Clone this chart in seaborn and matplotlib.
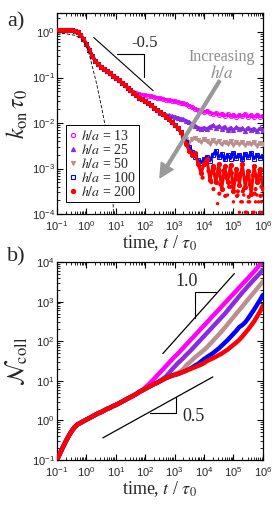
import numpy as np
import pandas as pd
import matplotlib
matplotlib.use("Agg")
import matplotlib.pyplot as plt
import seaborn as sns
from matplotlib.lines import Line2D
from matplotlib.ticker import LogLocator, NullFormatter

# log10(t / tau0) sampling grid
logt = [-1.0, -0.9, -0.8, -0.7, -0.6, -0.5, -0.4, -0.3, -0.2, -0.1,
        0.0, 0.1, 0.2, 0.3, 0.4, 0.5, 0.6, 0.7, 0.8, 0.9,
        1.0, 1.1, 1.2, 1.3, 1.4, 1.5, 1.6, 1.7, 1.8, 1.9,
        2.0, 2.1, 2.2, 2.3, 2.4, 2.5, 2.6, 2.7, 2.8, 2.9,
        3.0, 3.1, 3.2, 3.3, 3.4, 3.5, 3.6, 3.7, 3.8, 3.9,
        4.0, 4.1, 4.2, 4.3, 4.4, 4.5, 4.6, 4.7, 4.8, 4.9,
        5.0, 5.1, 5.2, 5.3, 5.4, 5.5, 5.6, 5.7, 5.8, 5.9, 6.0]

labels = ["$h/a$ = 13", "$h/a$ = 25", "$h/a$ = 50", "$h/a$ = 100", "$h/a$ = 200"]
colors = ["#ff00ff", "#8a2be2", "#bc8f8f", "#0000ff", "#ff0000"]
markers = ["o", "^", "v", "s", "o"]

# ---- panel a: log10(k_on tau0)
kon_main = [0.04, 0.04, 0.04, 0.04, 0.04, 0.035, 0.02, 0.0, -0.06, -0.15,
            -0.26, -0.39, -0.52, -0.63, -0.71, -0.76, -0.81, -0.86, -0.91, -0.96,
            -1.01, -1.06, -1.11, -1.16, -1.22, -1.28, -1.34, -1.39, -1.44, -1.48,
            -1.52, -1.56, -1.61, -1.66, -1.71, -1.76, -1.81, -1.86, -1.92, -1.98,
            -2.04, -2.11, -2.19]
kon_13 = [-1.23, -1.28, -1.32, -1.35, -1.37, -1.38, -1.39, -1.4, -1.41, -1.43,
          -1.45, -1.46, -1.47, -1.49, -1.5, -1.51, -1.52, -1.54, -1.55, -1.57,
          -1.59, -1.62, -1.65, -1.69, -1.72, -1.74, -1.76, -1.73, -1.77, -1.8,
          -1.78, -1.82, -1.79, -1.84, -1.81, -1.85, -1.82, -1.86, -1.83, -1.85,
          -1.81, -1.86, -1.83, -1.87, -1.82, -1.86, -1.84]
kon_25 = [-1.72, -1.77, -1.8, -1.82, -1.83, -1.85, -1.86, -1.88, -1.9, -1.92,
          -1.95, -1.98, -2.02, -2.06, -2.1, -2.12, -2.1, -2.13, -2.08, -2.05,
          -2.1, -2.07, -2.12, -2.08, -2.15, -2.1, -2.16, -2.09, -2.14, -2.11,
          -2.17, -2.1, -2.15, -2.12, -2.18, -2.11, -2.15]
kon_50 = [-2.28, -2.36, -2.42, -2.36, -2.33, -2.38, -2.42, -2.35, -2.4, -2.45,
          -2.38, -2.43, -2.4, -2.47, -2.41, -2.46, -2.4, -2.48, -2.42, -2.47,
          -2.41, -2.49, -2.43, -2.47, -2.42, -2.5, -2.44, -2.47]
kon_100 = [-2.3, -2.42, -2.53, -2.64, -2.74, -2.82, -2.87, -2.8, -2.74, -2.83,
           -2.7, -2.62, -2.75, -2.68, -2.8, -2.7, -2.78, -2.66, -2.76, -2.7,
           -2.8, -2.68, -2.75, -2.66, -2.78, -2.7, -2.76, -2.72]
kon_200 = [-2.32, -2.47, -2.62, -2.7, -2.66, -2.9, -3.1, -2.9, -2.8, -3.25,
           -2.95, -3.3, -2.9, -3.45, -2.95, -3.3, -2.92, -3.5, -3.0, -3.35,
           -2.9, -3.4, -3.05, -3.55, -2.95, -3.3, -3.0, -3.45]
# scattered points of the noisy h/a = 200 tail (between grid times)
red_mid_t = [3.85, 3.95, 4.05, 4.15, 4.25, 4.35, 4.45, 4.55, 4.65, 4.75, 4.85,
             4.95, 5.05, 5.15, 5.25, 5.35, 5.45, 5.55, 5.65, 5.75, 5.85, 5.95,
             4.32, 4.52, 4.72, 4.92, 5.12, 5.32, 5.52, 5.72, 5.92]
red_mid_k = [-2.95, -3.2, -2.85, -3.05, -3.3, -3.0, -3.15, -3.35, -3.05, -3.2, -3.4,
             -3.1, -3.25, -3.5, -3.1, -3.45, -3.2, -3.35, -3.15, -3.45, -3.25, -3.4,
             -3.45, -3.55, -3.6, -3.4, -3.6, -3.5, -3.62, -3.55, -3.6]
# rare single events of the h/a = 200 run
red_low_t = [4.46, 4.8, 5.0, 5.15, 5.2, 5.3, 5.35, 5.45, 5.5, 5.6, 5.65,
             5.75, 5.8, 5.9, 5.95, 6.0, 5.25, 5.4, 5.55, 5.7, 5.85, 5.98]
red_low_k = [-3.77, -3.58, -3.73, -3.58, -3.96, -3.73, -3.58, -3.96, -3.73, -3.58, -3.96,
             -3.73, -3.58, -3.96, -3.73, -3.58, -3.73, -3.96, -3.73, -3.96, -3.73, -3.96]
# free (unconfined) reference curve, dashed
free_t = [-1.0, -0.8, -0.6, -0.4, -0.2, -0.05, 0.05, 0.15, 0.25, 0.35,
          0.45, 0.52, 0.6, 0.65, 0.75, 0.85, 0.94]
free_k = [-0.015, -0.03, -0.05, -0.07, -0.14, -0.25, -0.38, -0.62, -0.88, -1.14,
          -1.45, -1.66, -1.93, -2.1, -2.75, -3.4, -4.0]

# ---- panel b: log10(N_coll)
ncoll_main = [-1.0, -0.84, -0.68, -0.53, -0.39, -0.27, -0.17, -0.1, -0.06, -0.02,
              0.02, 0.06, 0.1, 0.14, 0.18, 0.21, 0.25, 0.29, 0.32, 0.36,
              0.39, 0.43, 0.47, 0.51, 0.55, 0.59, 0.63, 0.67, 0.72, 0.76]
ncoll_red = [0.8, 0.84, 0.88, 0.92, 0.95, 0.99, 1.03, 1.07, 1.1, 1.13,
             1.15, 1.17, 1.2, 1.23, 1.26, 1.29, 1.32, 1.35, 1.38, 1.41,
             1.45, 1.5, 1.54, 1.57, 1.61, 1.65, 1.69, 1.74, 1.79, 1.85,
             1.91, 1.97, 2.04, 2.12, 2.21, 2.3, 2.4, 2.5, 2.62, 2.75, 2.9]
ncoll_13 = [0.83, 0.9, 0.97, 1.05, 1.13, 1.21, 1.29, 1.37, 1.45, 1.53,
            1.61, 1.68, 1.76, 1.84, 1.92, 2.0, 2.08, 2.16, 2.24, 2.32,
            2.4, 2.48, 2.56, 2.64, 2.72, 2.8, 2.88, 2.96, 3.04, 3.12,
            3.2, 3.28, 3.36, 3.44, 3.52, 3.6, 3.68, 3.76, 3.85, 3.94, 4.03]
ncoll_25 = [1.0, 1.05, 1.11, 1.19, 1.28, 1.36, 1.44, 1.51, 1.58, 1.66,
            1.73, 1.81, 1.89, 1.97, 2.05, 2.13, 2.21, 2.29, 2.37, 2.45,
            2.53, 2.61, 2.69, 2.78, 2.87, 2.96, 3.05, 3.14, 3.23, 3.31,
            3.4, 3.48, 3.56, 3.64, 3.72, 3.8]
ncoll_50 = [1.17, 1.2, 1.24, 1.3, 1.4, 1.46, 1.53, 1.6, 1.66, 1.72,
            1.78, 1.85, 1.93, 2.01, 2.09, 2.17, 2.25, 2.34, 2.43, 2.52,
            2.61, 2.7, 2.79, 2.88, 2.97, 3.06, 3.15, 3.24, 3.33, 3.42, 3.51]
ncoll_100 = [1.3, 1.34, 1.39, 1.43, 1.49, 1.55, 1.6, 1.65, 1.7, 1.76,
             1.82, 1.89, 1.96, 2.03, 2.11, 2.19, 2.27, 2.36, 2.41, 2.48,
             2.58, 2.69, 2.8, 2.92, 3.04, 3.17]

kon = [kon_main[:24] + kon_13, kon_main[:34] + kon_25, kon_main[:43] + kon_50,
       kon_main[:43] + kon_100, kon_main[:43] + kon_200]
n_red = ncoll_main + ncoll_red
ncoll = [ncoll_main + ncoll_13, n_red[:35] + ncoll_25, n_red[:40] + ncoll_50,
         n_red[:45] + ncoll_100, n_red]

sns.set_theme(style="ticks")
plt.rcParams["font.family"] = "Liberation Sans"
plt.rcParams["mathtext.fontset"] = "stix"
plt.rcParams["axes.edgecolor"] = "black"
plt.rcParams["axes.linewidth"] = 0.9
serif = "Liberation Serif"

fig = plt.figure(figsize=(2.75, 5.05), dpi=100)
ax1 = fig.add_axes([0.207, 0.576, 0.749, 0.398])
ax2 = fig.add_axes([0.207, 0.089, 0.749, 0.392])

T = 10 ** np.array(logt)

# panel a
for i in range(5):
    y = 10 ** np.array(kon[i])
    mfc = "none" if i in (0, 3) else colors[i]
    sns.lineplot(x=T[:len(y)], y=y, ax=ax1, color=colors[i], lw=2.2,
                 marker=markers[i], markersize=3, mfc=mfc, mec=colors[i],
                 markeredgewidth=0.7, zorder=2 + i)
sns.scatterplot(x=10 ** np.array(red_mid_t), y=10 ** np.array(red_mid_k), ax=ax1,
                color=colors[4], s=9, edgecolor="none", zorder=7)
sns.scatterplot(x=10 ** np.array(red_low_t), y=10 ** np.array(red_low_k), ax=ax1,
                color=colors[4], s=6, edgecolor="none", zorder=7)
sns.lineplot(x=10 ** np.array(free_t), y=10 ** np.array(free_k), ax=ax1,
             color="black", lw=0.6, ls=(0, (4, 2)), zorder=8)

ax1.plot([10 ** 0.25, 10 ** 2.27], [10 ** -0.12, 10 ** -1.29], color="black", lw=0.8)
ax1.plot([10 ** 1.05, 10 ** 1.95, 10 ** 1.95], [10 ** -0.49, 10 ** -0.49, 10 ** -0.98],
         color="black", lw=0.8)
ax1.text(10 ** 1.97, 10 ** -0.24, "-0.5", fontsize=12, family=serif,
         ha="center", va="center")

ax1.annotate("", xy=(10 ** 2.5, 10 ** -3.2), xytext=(10 ** 4.53, 10 ** -1.07),
             arrowprops=dict(facecolor="#999999", edgecolor="#999999",
                             width=2.0, headwidth=10, headlength=10), zorder=9)
ax1.text(10 ** 4.6, 10 ** -0.55, "Increasing", fontsize=11.5, family=serif,
         color="#8c8c8c", ha="center", va="center")
ax1.text(10 ** 4.62, 10 ** -0.9, "$h/a$", fontsize=12.5, color="#8c8c8c",
         ha="center", va="center")

handles = [Line2D([], [], ls="none", marker=markers[i], color=colors[i],
                  mfc=("none" if i in (0, 3) else colors[i]), markersize=3,
                  markeredgewidth=0.8) for i in range(5)]
leg = ax1.legend(handles, labels, loc="lower left", bbox_to_anchor=(0.045, 0.06),
                 borderaxespad=0, frameon=True, fancybox=False, framealpha=1,
                 edgecolor="black", prop={"family": serif, "size": 10},
                 handlelength=0.5, handletextpad=0.3, labelspacing=0.0,
                 borderpad=0.25)
leg.get_frame().set_linewidth(0.7)
leg.set_zorder(10)

ax1.set_ylim(1e-4, 2.6)
ax1.set_ylabel(r"$k_{\rm on}\,\tau_0$", fontsize=17, labelpad=1)

# panel b
for i in range(5):
    y = 10 ** np.array(ncoll[i])
    sns.lineplot(x=T[:len(y)], y=y, ax=ax2, color=colors[i], lw=3.2, zorder=2 + i)

ax2.plot([10 ** 2.6, 10 ** 5.03], [10 ** 1.69, 10 ** 3.71], color="black", lw=0.9)
ax2.plot([10 ** 3.68, 10 ** 3.68, 10 ** 4.4], [10 ** 2.58, 10 ** 3.25, 10 ** 3.25],
         color="black", lw=0.8)
ax2.text(10 ** 3.39, 10 ** 3.5, "1.0", fontsize=13, family=serif,
         ha="center", va="center")
ax2.plot([10 ** 0.56, 10 ** 4.3], [10 ** -0.44, 10 ** 1.1], color="black", lw=0.9)
ax2.plot([10 ** 2.15, 10 ** 3.03, 10 ** 3.03], [10 ** 0.2, 10 ** 0.2, 10 ** 0.58],
         color="black", lw=0.8)
ax2.text(10 ** 3.64, 10 ** 0.09, "0.5", fontsize=13, family=serif,
         ha="center", va="center")

ax2.set_ylim(1e-1, 1e4)
ax2.set_ylabel(r"$\mathcal{N}_{\rm coll}$", fontsize=17, labelpad=1)

for ax in (ax1, ax2):
    ax.set_xscale("log")
    ax.set_yscale("log")
    ax.set_xlim(1e-1, 1e6)
    ax.xaxis.set_major_locator(LogLocator(base=10, numticks=20))
    ax.yaxis.set_major_locator(LogLocator(base=10, numticks=20))
    ax.xaxis.set_minor_locator(LogLocator(base=10, subs=np.arange(2, 10), numticks=20))
    ax.yaxis.set_minor_locator(LogLocator(base=10, subs=np.arange(2, 10), numticks=20))
    ax.xaxis.set_minor_formatter(NullFormatter())
    ax.yaxis.set_minor_formatter(NullFormatter())
    ax.tick_params(which="both", direction="in", top=True, right=True,
                   labelsize=8, color="black")
    ax.tick_params(axis="x", pad=3.5)
    ax.tick_params(axis="y", pad=1.5)
    ax.tick_params(which="major", length=4, width=0.8)
    ax.tick_params(which="minor", length=2, width=0.6)
    ax.set_xlabel("time, $t$ / $\\tau_0$", fontsize=13, family=serif, labelpad=0)

fig.text(0.025, 0.975, "a)", fontsize=16, family=serif, va="top")
fig.text(0.025, 0.51, "b)", fontsize=16, family=serif, va="top")

fig.savefig("out.png", dpi=100)
